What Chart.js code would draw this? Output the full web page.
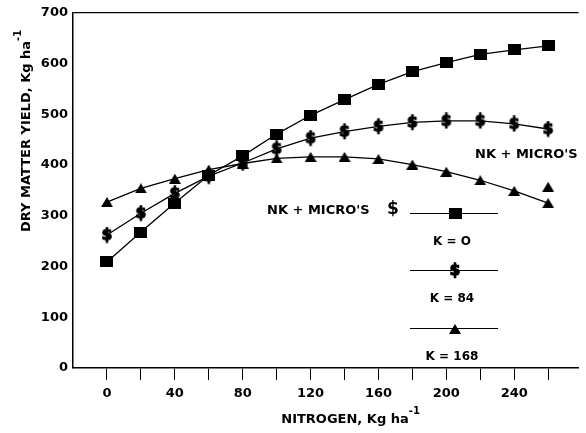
<!DOCTYPE html>
<html>
<head>
<meta charset="utf-8">
<script src="https://cdn.jsdelivr.net/npm/chart.js@4"></script>
<style>
  html, body { margin: 0; padding: 0; background: #fff; }
  #wrap { width: 586px; height: 433px; }
</style>
</head>
<body>
<div id="wrap"><canvas id="yieldChart" width="586" height="433"></canvas></div>
<script>
// nitrogen rate (kg/ha) and dry matter yield per potassium level
const nitrogen = [0, 20, 40, 60, 80, 100, 120, 140, 160, 180, 200, 220, 240, 260];
const yieldK0 = [209, 268, 325, 380, 418, 461, 498, 529, 559, 584, 602, 618, 627, 635];
const yieldK84 = [262, 305, 344, 378, 404, 432, 453, 466, 476, 484, 487, 487, 481, 471];
const yieldK168 = [327, 354, 373, 391, 403, 413, 416, 416, 412, 401, 387, 370, 349, 325];
const strayN = [260];
const strayK168 = [357];

const yTicks = [0, 100, 200, 300, 400, 500, 600, 700];
const xLabelled = [0, 40, 80, 120, 160, 200, 240];
const seriesNames = ["K = O", "K = 84", "K = 168"];

const FONT = "DejaVu Sans";
const INK = "#000";

// ---- marker images ----
const makeMarker = (w, h, draw) => {
  const c = document.createElement("canvas");
  c.width = w;
  c.height = h;
  const ctx = c.getContext("2d");
  ctx.fillStyle = INK;
  ctx.strokeStyle = INK;
  draw(ctx, w, h);
  return c;
};

const squareMark = makeMarker(13, 11, (ctx, w, h) => ctx.fillRect(0, 0, w, h));
const triangleMark = makeMarker(12, 10, (ctx, w, h) => {
  ctx.beginPath();
  ctx.moveTo(w / 2, 0);
  ctx.lineTo(w, h);
  ctx.lineTo(0, h);
  ctx.closePath();
  ctx.fill();
});
const dollarMark = makeMarker(12, 17, (ctx, w, h) => {
  ctx.font = `bold 15px ${FONT}`;
  ctx.textAlign = "center";
  ctx.textBaseline = "middle";
  ctx.lineWidth = 1.4;
  ctx.fillText("$", w / 2, h / 2 + 1);
  ctx.strokeText("$", w / 2, h / 2 + 1);
});
const markers = [squareMark, dollarMark, triangleMark];

const toPoints = (xs, ys) => xs.map((x, i) => ({ x, y: ys[i] }));

const lineSet = (label, values, marker) => ({
  label,
  data: toPoints(nitrogen, values),
  borderColor: INK,
  borderWidth: 1.3,
  pointStyle: marker,
  pointRadius: 6,
  tension: 0,
  fill: false,
});

// ---- titles, notes and hand-made legend ----
const decorations = {
  id: "decorations",
  afterDraw(chart) {
    const { ctx, chartArea } = chart;
    ctx.save();
    ctx.fillStyle = INK;
    ctx.strokeStyle = INK;
    ctx.textBaseline = "alphabetic";

    // x axis title
    ctx.font = `bold 13px ${FONT}`;
    ctx.textAlign = "left";
    const xt = "NITROGEN, Kg ha";
    const xw = ctx.measureText(xt).width;
    const xStart = 345 - xw / 2;
    ctx.fillText(xt, xStart, 423);
    ctx.font = `bold 10px ${FONT}`;
    ctx.fillText("-1", xStart + xw, 414);

    // y axis title
    ctx.save();
    ctx.translate(30, 232);
    ctx.rotate(-Math.PI / 2);
    ctx.font = `bold 13px ${FONT}`;
    const yt = "DRY MATTER YIELD, Kg ha";
    const yw = ctx.measureText(yt).width;
    ctx.fillText(yt, 0, 0);
    ctx.font = `bold 10px ${FONT}`;
    ctx.fillText("-1", yw, -9);
    ctx.restore();

    // notes
    ctx.font = `bold 13px ${FONT}`;
    ctx.textAlign = "left";
    ctx.fillText("NK + MICRO'S", 267, 214);
    ctx.fillText("NK + MICRO'S", 475, 158);
    ctx.font = `bold 17px ${FONT}`;
    ctx.fillText("$", 387, 214);

    // legend: line with marker, label below
    const lx0 = chartArea.left + 337;
    const lx1 = chartArea.left + 425;
    const rows = [213.5, 270.5, 328.5];
    rows.forEach((ly, i) => {
      ctx.lineWidth = 1;
      ctx.beginPath();
      ctx.moveTo(lx0, ly);
      ctx.lineTo(lx1, ly);
      ctx.stroke();
      const m = markers[i];
      ctx.drawImage(m, Math.round(455 - m.width / 2), Math.round(ly - m.height / 2));
      ctx.font = `bold 12px ${FONT}`;
      ctx.textAlign = "center";
      ctx.fillText(seriesNames[i], 452, ly + 31);
    });
    ctx.restore();
  },
};

const config = {
  type: "line",
  data: {
    datasets: [
      lineSet(seriesNames[0], yieldK0, squareMark),
      lineSet(seriesNames[1], yieldK84, dollarMark),
      lineSet(seriesNames[2], yieldK168, triangleMark),
      {
        label: "K = 168 (extra)",
        data: toPoints(strayN, strayK168),
        showLine: false,
        pointStyle: triangleMark,
        pointRadius: 6,
      },
    ],
  },
  options: {
    responsive: false,
    animation: false,
    layout: { padding: { top: 10, right: 0, left: 0, bottom: 0 } },
    plugins: {
      legend: { display: false },
      tooltip: { enabled: false },
    },
    scales: {
      x: {
        type: "linear",
        min: -20,
        max: 278,
        afterBuildTicks: (scale) => {
          scale.ticks = nitrogen.map((v) => ({ value: v }));
        },
        afterFit: (scale) => {
          scale.height = 65;
        },
        border: { display: true, color: INK, width: 1.5 },
        grid: { drawOnChartArea: false, drawTicks: true, tickLength: 12, color: INK, lineWidth: 1 },
        ticks: {
          color: INK,
          padding: 6,
          maxRotation: 0,
          autoSkip: false,
          font: { family: FONT, size: 13, weight: "bold" },
          callback: (v) => (xLabelled.includes(v) ? String(v) : ""),
        },
      },
      y: {
        min: 0,
        max: 700,
        afterBuildTicks: (scale) => {
          scale.ticks = yTicks.map((v) => ({ value: v }));
        },
        afterFit: (scale) => {
          scale.width = 73;
        },
        border: { display: true, color: INK, width: 1.5 },
        grid: {
          drawTicks: false,
          color: (ctx) => (ctx.tick && ctx.tick.value === 700 ? INK : "rgba(0,0,0,0)"),
          lineWidth: 1.2,
        },
        ticks: {
          color: INK,
          padding: 5,
          font: { family: FONT, size: 13, weight: "bold" },
        },
      },
    },
  },
  plugins: [decorations],
};

new Chart(document.getElementById("yieldChart").getContext("2d"), config);
</script>
</body>
</html>
